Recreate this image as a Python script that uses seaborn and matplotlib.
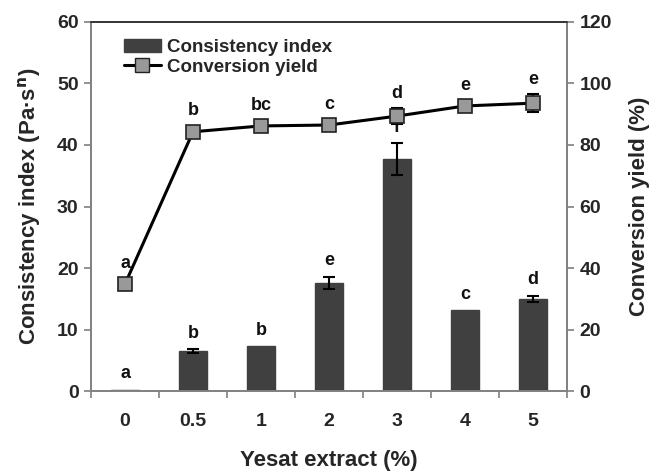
import numpy as np
import pandas as pd
import matplotlib
matplotlib.use("Agg")
import matplotlib.pyplot as plt
import seaborn as sns
from matplotlib.lines import Line2D
from matplotlib.patches import Patch

# Data
extract_levels = ["0", "0.5", "1", "2", "3", "4", "5"]
consistency = [0.2, 6.5, 7.3, 17.6, 37.7, 13.1, 15.0]
consistency_err = [0.0, 0.3, 0.0, 1.0, 2.6, 0.0, 0.5]
consistency_letters = ["a", "b", "b", "e", "f", "c", "d"]
conversion = [34.8, 84.3, 86.2, 86.5, 89.4, 92.7, 93.6]
conversion_err = [0.0, 0.0, 0.0, 0.0, 2.5, 0.0, 3.0]
conversion_letters = ["a", "b", "bc", "c", "d", "e", "e"]

sns.set_theme(style="white")
plt.rcParams["font.family"] = ["Liberation Sans", "DejaVu Sans"]

df = pd.DataFrame({"level": extract_levels, "consistency": consistency,
                   "conversion": conversion})

fig = plt.figure(figsize=(6.61, 4.72), dpi=100)
ax = fig.add_axes([0.1377, 0.1716, 0.7201, 0.7818])

bar_color = "#404040"
sns.barplot(data=df, x="level", y="consistency", order=extract_levels,
            color=bar_color, width=0.4, saturation=1, ax=ax, errorbar=None,
            edgecolor=bar_color)
xs = np.arange(len(extract_levels))
ce = np.array(consistency_err)
mask = ce > 0
ax.errorbar(xs[mask], np.array(consistency)[mask], yerr=ce[mask], fmt="none",
            ecolor="black", elinewidth=1.5, capsize=4, capthick=1.5, zorder=3)

ax.set_ylim(0, 60)
ax.set_xlim(-0.5, len(extract_levels) - 0.5)
ax.set_yticks(np.arange(0, 61, 10))

# letters over bars
for x, v, e, t in zip(xs, consistency, consistency_err, consistency_letters):
    ax.text(x, v + e + 1.2, t, ha="center", va="bottom", fontsize=13,
            fontweight="bold", color="#111111", zorder=4)

ax2 = ax.twinx()
sns.lineplot(x=xs, y=conversion, ax=ax2, color="black", linewidth=2.2,
             marker="s", markersize=10, markerfacecolor="#999999",
             markeredgecolor="#222222", markeredgewidth=1.2, zorder=5)
cv = np.array(conversion_err)
m2 = cv > 0
ax2.errorbar(xs[m2], np.array(conversion)[m2], yerr=cv[m2], fmt="none",
             ecolor="black", elinewidth=1.5, capsize=4, capthick=1.5, zorder=4)
ax2.set_ylim(0, 120)
ax2.set_yticks(np.arange(0, 121, 20))
for x, v, e, t in zip(xs, conversion, conversion_err, conversion_letters):
    ax2.text(x, v + max(e, 2.0) + 2.0, t, ha="center", va="bottom",
             fontsize=13, fontweight="bold", color="#111111", zorder=6)

# Axes styling
for a in (ax, ax2):
    for side in ("left", "right", "bottom"):
        a.spines[side].set_color("#808080")
        a.spines[side].set_linewidth(1.2)
    a.spines["top"].set_color("#333333")
    a.spines["top"].set_linewidth(1.2)

ax.tick_params(axis="y", which="major", left=True, length=5, width=1.2,
               color="#808080", labelsize=14, pad=4)
ax2.tick_params(axis="y", which="major", right=True, length=5, width=1.2,
                color="#808080", labelsize=14, pad=4)
for lab in ax.get_yticklabels() + ax2.get_yticklabels():
    lab.set_fontweight("bold")

ax.set_xticks(xs)
ax.set_xticklabels(extract_levels, fontsize=14, fontweight="bold")
ax.tick_params(axis="x", which="major", length=0, pad=16)
ax.set_xticks(np.arange(-0.5, len(extract_levels), 1.0), minor=True)
ax.tick_params(axis="x", which="minor", bottom=True, length=5, width=1.2,
               color="#808080")

ax.set_xlabel("Yesat extract (%)", fontsize=16, fontweight="bold", labelpad=14)
ax.set_ylabel("Consistency index (Pa\u00b7s$^{\\mathbf{n}}$)", fontsize=16,
              fontweight="bold", labelpad=10)
ax2.set_ylabel("Conversion yield (%)", fontsize=16, fontweight="bold",
               labelpad=12)

handles = [Patch(facecolor=bar_color, edgecolor=bar_color),
           Line2D([0], [0], color="black", linewidth=2.2, marker="s",
                  markersize=10, markerfacecolor="#999999",
                  markeredgecolor="#222222")]
ax.legend(handles, ["Consistency index", "Conversion yield"],
          loc="upper left", bbox_to_anchor=(0.045, 0.985), frameon=False,
          prop={"size": 13.5, "weight": "bold"}, handlelength=2.0,
          handletextpad=0.3, labelspacing=0.15, borderaxespad=0.2)
if ax2.get_legend() is not None:
    ax2.get_legend().remove()

fig.savefig("out.png", dpi=100)
